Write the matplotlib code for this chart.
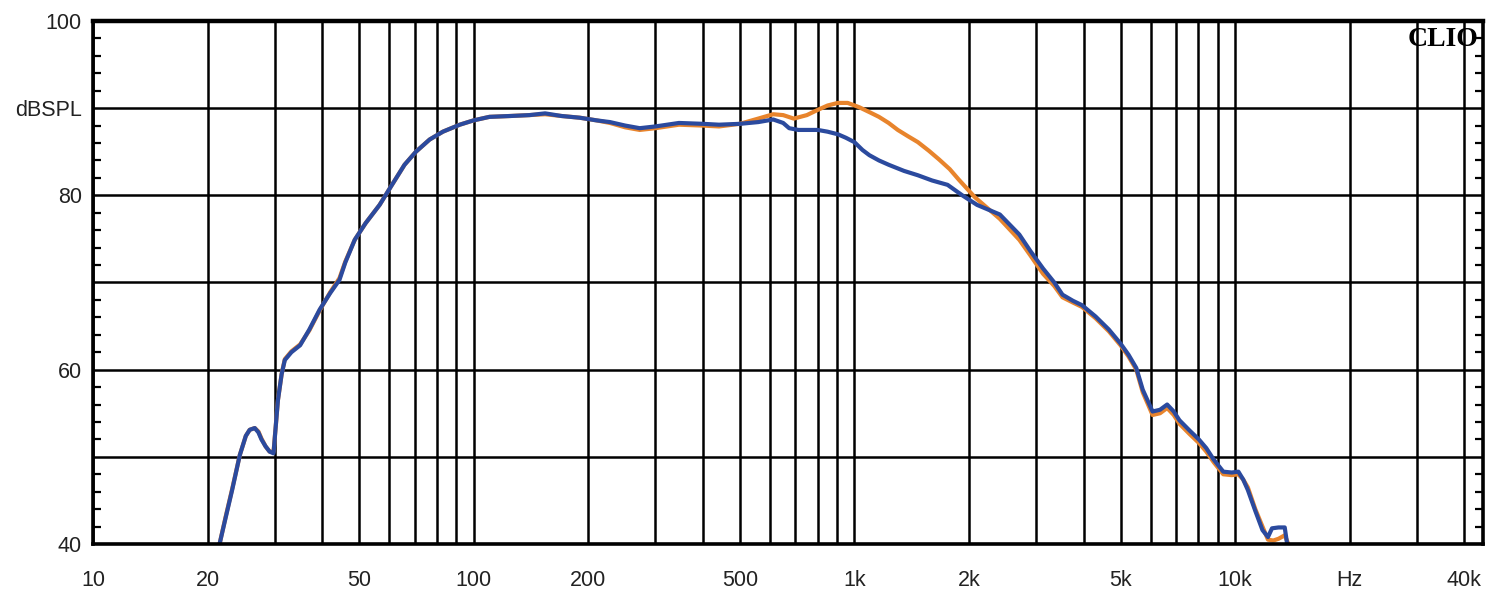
import numpy as np
import matplotlib.pyplot as plt
from matplotlib.ticker import FixedLocator, NullLocator

# frequency response (Hz, dB SPL)
freq_blue = [21.5, 22.3, 23.2, 24.3, 25.2, 25.8, 26.6, 27.2, 27.7, 28.4, 29.1, 29.8,
             30.2, 30.6, 31.3, 31.9, 33.2, 35.0, 37.0, 39.4, 42.0, 44.4, 46.0, 48.7,
             52.0, 56.6, 61.0, 65.8, 70.5, 76.6, 83.0, 91.9, 100, 110, 125, 140,
             154, 170, 190, 210, 228, 250, 273, 300, 346, 400, 441, 500, 559, 612,
             650, 674, 713, 760, 801, 850, 905, 950, 1000, 1050, 1095, 1160, 1231,
             1350, 1468, 1600, 1757, 1920, 2100, 2410, 2711, 2900, 3130, 3350, 3520,
             3750, 3960, 4300, 4660, 5000, 5250, 5500, 5720, 6070, 6350, 6630, 6900,
             7140, 7600, 8030, 8400, 8780, 9310, 9800, 10200, 10500, 10800, 11300,
             11800, 12200, 12500, 13000, 13500, 13700]
spl_blue = [40.0, 43.0, 46.2, 50.2, 52.4, 53.1, 53.3, 52.8, 52.0, 51.2, 50.6, 50.4,
            53.5, 56.5, 59.5, 61.1, 62.0, 62.8, 64.6, 66.9, 68.8, 70.3, 72.3, 74.9,
            76.8, 78.9, 81.2, 83.5, 85.0, 86.4, 87.3, 88.1, 88.6, 89.0, 89.1, 89.2,
            89.4, 89.1, 88.9, 88.6, 88.4, 88.0, 87.7, 87.9, 88.3, 88.2, 88.1, 88.2,
            88.4, 88.7, 88.3, 87.7, 87.5, 87.5, 87.5, 87.3, 87.0, 86.6, 86.1, 85.2,
            84.6, 84.0, 83.5, 82.8, 82.3, 81.7, 81.2, 80.0, 78.9, 77.8, 75.5, 73.6,
            71.6, 70.0, 68.6, 67.9, 67.4, 66.1, 64.6, 63.0, 61.7, 60.2, 57.7, 55.2,
            55.4, 56.0, 55.2, 54.2, 53.0, 52.0, 51.0, 49.7, 48.3, 48.2, 48.3, 47.4,
            46.2, 43.8, 41.6, 40.8, 41.8, 41.9, 41.9, 40.0]

freq_orange = [21.5, 22.3, 23.2, 24.3, 25.2, 25.8, 26.6, 27.2, 27.7, 28.4, 29.1, 29.8,
               30.2, 30.6, 31.3, 31.9, 33.2, 35.0, 37.0, 39.4, 42.0, 44.4, 46.0, 48.7,
               52.0, 56.6, 61.0, 65.8, 70.5, 76.6, 83.0, 91.9, 100, 110, 125, 140,
               154, 170, 190, 210, 228, 250, 273, 300, 346, 400, 441, 500, 559, 612,
               650, 693, 750, 801, 850, 905, 960, 1030, 1100, 1160, 1230, 1300, 1380,
               1468, 1570, 1670, 1780, 1880, 2070, 2410, 2711, 2900, 3130, 3350, 3520,
               3750, 3960, 4300, 4660, 5000, 5250, 5500, 5720, 6070, 6350, 6630, 6900,
               7140, 7600, 8030, 8400, 8780, 9310, 9800, 10200, 10500, 10800, 11300,
               11800, 12200, 12600, 13000, 13500, 13800]
spl_orange = [40.0, 43.1, 46.3, 50.2, 52.4, 53.1, 53.3, 52.9, 52.1, 51.2, 50.6, 50.6,
              53.5, 56.5, 59.5, 61.2, 62.1, 62.9, 64.5, 66.8, 68.9, 70.5, 72.4, 74.9,
              76.8, 78.9, 81.2, 83.5, 85.0, 86.4, 87.3, 88.1, 88.6, 89.0, 89.1, 89.2,
              89.3, 89.1, 88.9, 88.6, 88.3, 87.8, 87.5, 87.7, 88.1, 88.0, 87.9, 88.2,
              88.8, 89.3, 89.2, 88.8, 89.2, 89.8, 90.3, 90.6, 90.6, 90.1, 89.5, 89.0,
              88.3, 87.5, 86.8, 86.1, 85.1, 84.1, 83.0, 81.8, 79.8, 77.3, 74.9, 73.1,
              71.0, 69.6, 68.3, 67.7, 67.2, 65.9, 64.4, 62.8, 61.5, 60.0, 57.4, 54.8,
              55.0, 55.6, 54.8, 53.8, 52.6, 51.6, 50.6, 49.4, 48.0, 47.9, 48.0, 47.4,
              46.5, 44.0, 42.0, 40.5, 40.4, 40.6, 41.0, 40.0]

major_x = [10, 20, 50, 100, 200, 500, 1000, 2000, 5000, 10000, 20000, 40000]
major_x_labels = ['10', '20', '50', '100', '200', '500', '1k', '2k', '5k', '10k', 'Hz', '40k']
grid_x = [10, 20, 30, 40, 50, 60, 70, 80, 90,
          100, 200, 300, 400, 500, 600, 700, 800, 900,
          1000, 2000, 3000, 4000, 5000, 6000, 7000, 8000, 9000,
          10000, 20000, 30000, 40000]
y_ticks = [40, 50, 60, 70, 80, 90, 100]
y_labels = ['40', '', '60', '', '80', 'dBSPL', '100']

plt.rcParams['font.family'] = ['Liberation Sans', 'DejaVu Sans']

fig = plt.figure(figsize=(15, 5.99), dpi=100)
ax = fig.add_axes([0.062, 0.0918, 0.9267, 0.8732])

ax.set_xscale('log')
ax.set_xlim(10, 44800)
ax.set_ylim(40, 100)

# grid
for gx in grid_x:
    ax.axvline(gx, color='black', lw=1.8, zorder=1)
for gy in y_ticks:
    ax.axhline(gy, color='black', lw=1.8, zorder=1)

ax.plot(freq_orange, spl_orange, color='#e8842c', lw=3, zorder=3)
ax.plot(freq_blue, spl_blue, color='#2b4a9e', lw=3, zorder=4)

ax.xaxis.set_major_locator(FixedLocator(major_x))
ax.xaxis.set_minor_locator(NullLocator())
ax.set_xticklabels(major_x_labels)
ax.tick_params(axis='x', which='major', length=0, pad=19, labelsize=15.5, colors='#222222')

ax.set_yticks(y_ticks)
ax.set_yticklabels(y_labels)
ax.set_yticks(np.arange(40, 101, 2), minor=True)
ax.tick_params(axis='y', which='major', length=0, pad=8, labelsize=15.5, colors='#222222')
ax.tick_params(axis='y', which='minor', direction='in', length=6, width=1.6,
               left=True, right=True, color='black')

for s in ax.spines.values():
    s.set_linewidth(2.6)
    s.set_zorder(5)
ax.spines['top'].set_linewidth(3.2)

ax.text(0.997, 0.965, 'CLIO', transform=ax.transAxes, ha='right', va='center',
        fontsize=20, fontweight='bold', family=['Liberation Serif', 'DejaVu Serif'],
        zorder=6)

fig.savefig('out.png', dpi=100)
